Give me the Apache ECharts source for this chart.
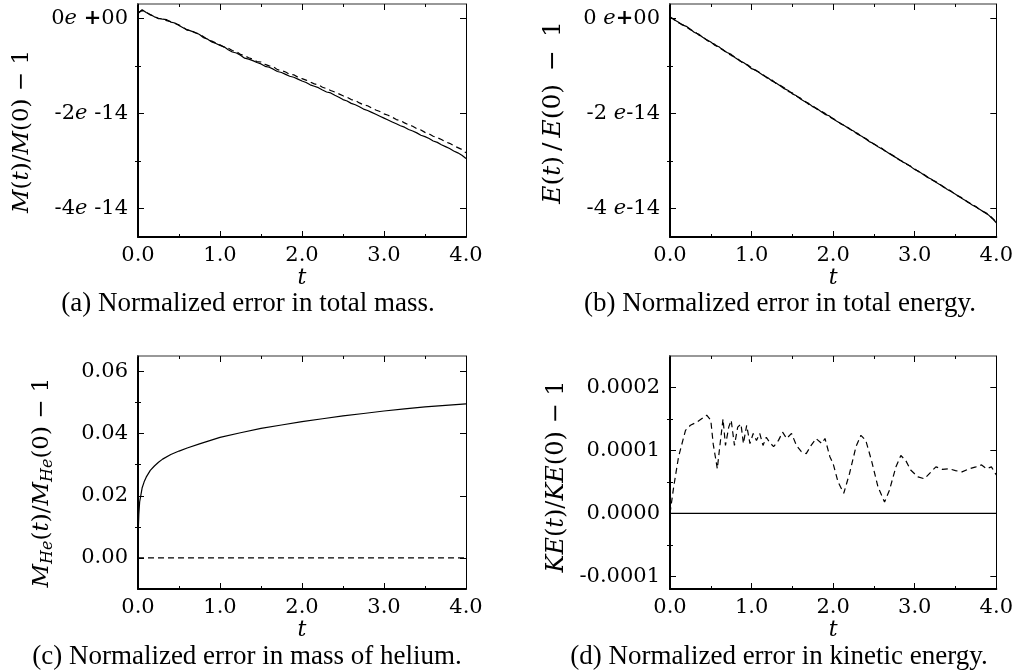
<!DOCTYPE html>
<html>
<head>
<meta charset="utf-8">
<title>Conservation errors</title>
<script src="https://cdn.jsdelivr.net/npm/echarts@6/dist/echarts.min.js"></script>
<style>
  html, body { margin: 0; padding: 0; background: #fff; }
  #chart { width: 1016px; height: 672px; }
</style>
</head>
<body>
<div id="chart"></div>
<script>
// Sample times for the total mass / total energy runs
const tSteps = [
  0.00, 0.05, 0.10, 0.15, 0.20, 0.25, 0.30, 0.35, 0.40, 0.45,
  0.50, 0.55, 0.60, 0.65, 0.70, 0.75, 0.80, 0.85, 0.90, 0.95,
  1.00, 1.05, 1.10, 1.15, 1.20, 1.25, 1.30, 1.35, 1.40, 1.45,
  1.50, 1.55, 1.60, 1.65, 1.70, 1.75, 1.80, 1.85, 1.90, 1.95,
  2.00, 2.05, 2.10, 2.15, 2.20, 2.25, 2.30, 2.35, 2.40, 2.45,
  2.50, 2.55, 2.60, 2.65, 2.70, 2.75, 2.80, 2.85, 2.90, 2.95,
  3.00, 3.05, 3.10, 3.15, 3.20, 3.25, 3.30, 3.35, 3.40, 3.45,
  3.50, 3.55, 3.60, 3.65, 3.70, 3.75, 3.80, 3.85, 3.90, 3.95,
  4.00
];

// (a) M(t)/M(0) - 1, in units of 1e-14
const massErrSolid = [
  0.10, 0.18, 0.12, 0.08, 0.03, 0.00, -0.02, -0.03, -0.08, -0.10,
  -0.15, -0.20, -0.24, -0.27, -0.30, -0.34, -0.41, -0.44, -0.50, -0.53,
  -0.57, -0.60, -0.66, -0.71, -0.73, -0.78, -0.84, -0.86, -0.89, -0.93,
  -0.96, -1.01, -1.03, -1.07, -1.12, -1.14, -1.18, -1.22, -1.24, -1.28,
  -1.32, -1.35, -1.40, -1.43, -1.46, -1.51, -1.55, -1.57, -1.62, -1.66,
  -1.71, -1.74, -1.79, -1.82, -1.86, -1.91, -1.94, -1.98, -2.02, -2.06,
  -2.10, -2.14, -2.18, -2.22, -2.26, -2.29, -2.34, -2.37, -2.41, -2.46,
  -2.49, -2.53, -2.58, -2.61, -2.66, -2.70, -2.74, -2.79, -2.83, -2.88,
  -2.95
];
const massErrDashed = [
  0.12, 0.16, 0.13, 0.07, 0.04, -0.01, -0.01, -0.05, -0.07, -0.11,
  -0.14, -0.19, -0.25, -0.26, -0.31, -0.33, -0.39, -0.45, -0.48, -0.52,
  -0.56, -0.61, -0.63, -0.68, -0.70, -0.76, -0.79, -0.83, -0.86, -0.91,
  -0.92, -0.97, -1.00, -1.02, -1.08, -1.10, -1.13, -1.18, -1.19, -1.24,
  -1.27, -1.30, -1.34, -1.38, -1.40, -1.45, -1.48, -1.52, -1.55, -1.59,
  -1.63, -1.66, -1.71, -1.73, -1.78, -1.82, -1.84, -1.89, -1.93, -1.96,
  -2.01, -2.04, -2.08, -2.13, -2.15, -2.20, -2.24, -2.27, -2.32, -2.35,
  -2.40, -2.43, -2.48, -2.51, -2.55, -2.60, -2.63, -2.68, -2.72, -2.76,
  -2.83
];

// (b) E(t)/E(0) - 1, in units of 1e-14
const energyErrSolid = [
  0.03, -0.03, -0.08, -0.14, -0.17, -0.23, -0.30, -0.33, -0.40, -0.45,
  -0.50, -0.57, -0.60, -0.67, -0.72, -0.76, -0.83, -0.89, -0.93, -0.99,
  -1.06, -1.09, -1.15, -1.21, -1.25, -1.32, -1.36, -1.42, -1.48, -1.52,
  -1.59, -1.63, -1.70, -1.75, -1.79, -1.86, -1.90, -1.96, -2.02, -2.05,
  -2.12, -2.17, -2.22, -2.27, -2.33, -2.37, -2.44, -2.48, -2.54, -2.60,
  -2.64, -2.70, -2.75, -2.80, -2.86, -2.91, -2.96, -3.02, -3.06, -3.12,
  -3.18, -3.22, -3.28, -3.34, -3.38, -3.44, -3.49, -3.54, -3.60, -3.65,
  -3.70, -3.76, -3.81, -3.86, -3.92, -3.97, -4.02, -4.08, -4.13, -4.21,
  -4.30
];
const energyErrDashed = [
  0.02, -0.02, -0.09, -0.13, -0.18, -0.24, -0.28, -0.35, -0.39, -0.46,
  -0.51, -0.55, -0.62, -0.66, -0.73, -0.78, -0.82, -0.88, -0.95, -0.98,
  -1.04, -1.10, -1.14, -1.20, -1.27, -1.30, -1.37, -1.41, -1.46, -1.54,
  -1.57, -1.64, -1.68, -1.74, -1.81, -1.84, -1.91, -1.95, -2.00, -2.07,
  -2.11, -2.16, -2.23, -2.26, -2.32, -2.39, -2.42, -2.49, -2.53, -2.59,
  -2.65, -2.69, -2.74, -2.81, -2.85, -2.90, -2.97, -3.01, -3.07, -3.11,
  -3.17, -3.23, -3.27, -3.33, -3.39, -3.43, -3.48, -3.55, -3.59, -3.64,
  -3.71, -3.75, -3.80, -3.87, -3.91, -3.96, -4.03, -4.07, -4.12, -4.20,
  -4.28
];

// (c) helium mass error
const tHelium = [
  0, 0.005, 0.01, 0.02, 0.03, 0.05, 0.075, 0.1, 0.15, 0.2,
  0.25, 0.3, 0.4, 0.5, 0.6, 0.75, 1.0, 1.25, 1.5, 1.75,
  2.0, 2.25, 2.5, 2.75, 3.0, 3.25, 3.5, 3.75, 4.0
];
const heliumErrSolid = [
  0, 0.010, 0.014, 0.018, 0.0195, 0.0225, 0.0245, 0.026, 0.0282, 0.0296,
  0.0308, 0.0318, 0.0333, 0.0344, 0.0354, 0.0367, 0.0388, 0.0403, 0.0417, 0.0428,
  0.0439, 0.0448, 0.0457, 0.0465, 0.0473, 0.0480, 0.0486, 0.0491, 0.0496
];
const tHeliumFlat = [0, 4];
const heliumErrDashed = [0, 0];

// (d) kinetic energy error, in units of 1e-4
const tKinetic = [
  0, 0.045, 0.105, 0.19, 0.25, 0.33, 0.45, 0.5, 0.53, 0.58,
  0.61, 0.65, 0.68, 0.72, 0.75, 0.79, 0.83, 0.87, 0.9, 0.94,
  0.98, 1.02, 1.06, 1.1, 1.14, 1.18, 1.22, 1.27, 1.33, 1.38,
  1.43, 1.49, 1.55, 1.61, 1.67, 1.73, 1.79, 1.86, 1.9, 1.96,
  2.0, 2.06, 2.13, 2.2, 2.28, 2.34, 2.4, 2.47, 2.55, 2.63,
  2.69, 2.77, 2.83, 2.89, 2.95, 3.04, 3.12, 3.2, 3.26, 3.34,
  3.42, 3.5, 3.58, 3.67, 3.75, 3.82, 3.88, 3.94, 4.0
];
const kineticErrDashed = [
  0, 0.42, 0.9, 1.32, 1.4, 1.45, 1.56, 1.48, 1.1, 0.71,
  1.06, 1.5, 1.08, 1.37, 1.48, 1.08, 1.37, 1.42, 1.11, 1.4,
  1.11, 1.27, 1.16, 1.27, 1.08, 1.21, 1.13, 1.06, 1.16, 1.29,
  1.19, 1.27, 1.08, 0.98, 0.95, 1.08, 1.19, 1.11, 1.19, 0.9,
  0.79, 0.5, 0.32, 0.63, 1.06, 1.24, 1.16, 0.84, 0.42, 0.18,
  0.37, 0.74, 0.92, 0.84, 0.69, 0.58, 0.55, 0.66, 0.74, 0.7,
  0.71, 0.68, 0.66, 0.71, 0.74, 0.77, 0.71, 0.74, 0.61
];
const tKineticFlat = [0, 4];
const kineticErrSolid = [0, 0];

// Axis tick positions
const expMajor = [-4, -2, 0];
const expMinor = [-3, -1];
const heMajor = [0, 0.02, 0.04, 0.06];
const heMinor = [0.01, 0.03, 0.05];
const keMajor = [-1, 0, 1, 2];
const keMinor = [-0.5, 0.5, 1.5];

const captions = [
  '(a) Normalized error in total mass.',
  '(b) Normalized error in total energy.',
  '(c) Normalized error in mass of helium.',
  '(d) Normalized error in kinetic energy.'
];

const TICK_FONT = 'DejaVu Serif';
const NAME_FONT = 'DejaVu Serif';
const CAP_FONT = 'Liberation Serif';
const TICK_SIZE = 21;

const pair = (xs, ys) => xs.map((x, i) => [x, ys[i]]);

const option = {
  backgroundColor: '#fff',
  animation: false,
  grid: [], xAxis: [], yAxis: [], series: [], graphic: []
};

function nameRich(size) {
  return {
    r: { fontFamily: NAME_FONT, fontSize: size, color: '#000' },
    i: { fontFamily: NAME_FONT, fontSize: size, fontStyle: 'italic', color: '#000' },
    s: { fontFamily: NAME_FONT, fontSize: Math.round(size * 0.68), fontStyle: 'italic', color: '#000',
         verticalAlign: 'bottom', padding: [12, 0, 0, 0] }
  };
}
const labelRich = {
  e: { fontFamily: TICK_FONT, fontSize: TICK_SIZE, fontStyle: 'italic', color: '#000' },
  b: { fontFamily: TICK_FONT, fontSize: TICK_SIZE, fontWeight: 'bold', color: '#000' }
};

function addPanel(p) {
  const gi = option.grid.length;
  option.grid.push({ left: p.left, top: p.top, width: p.width, height: p.height, containLabel: false });
  const tickStyle = { color: '#000', width: 1 };
  const xBase = {
    gridIndex: gi, type: 'value', min: 0, max: 4, interval: 1,
    splitLine: { show: false }, minorSplitLine: { show: false },
    axisTick: { show: true, inside: true, length: 6, lineStyle: tickStyle },
    minorTick: { show: true, splitNumber: 2, length: 3, lineStyle: tickStyle }
  };
  option.xAxis.push(Object.assign({}, xBase, {
    position: 'bottom',
    axisLine: { show: true, onZero: false, lineStyle: { color: '#000', width: 2 } },
    axisLabel: { show: true, margin: 8, color: '#000', fontFamily: TICK_FONT, fontSize: TICK_SIZE,
                 formatter: v => v.toFixed(1) },
    name: 't', nameLocation: 'middle', nameGap: 28,
    nameTextStyle: { fontFamily: NAME_FONT, fontSize: 22, fontStyle: 'italic', color: '#000' }
  }));
  option.xAxis.push(Object.assign({}, xBase, {
    position: 'top',
    axisLine: { show: true, onZero: false, lineStyle: { color: '#777', width: 1.5 } },
    axisLabel: { show: false }
  }));

  const yBase = {
    gridIndex: gi, type: 'value', min: p.ymin, max: p.ymax, scale: true,
    splitLine: { show: false }
  };
  // left: major ticks with labels, then minor ticks
  option.yAxis.push(Object.assign({}, yBase, {
    position: 'left',
    axisLine: { show: true, onZero: false, lineStyle: { color: '#000', width: 2 } },
    axisTick: { show: true, inside: true, length: 6, lineStyle: tickStyle, customValues: p.major },
    axisLabel: { show: true, margin: 10, color: '#000', fontFamily: TICK_FONT, fontSize: TICK_SIZE,
                 customValues: p.major, formatter: p.fmt, rich: labelRich },
    name: p.name, nameLocation: 'middle', nameRotate: 90, nameGap: p.nameGap,
    nameTextStyle: { rich: nameRich(p.nameSize), fontFamily: NAME_FONT, fontSize: p.nameSize,
                     color: '#000', padding: p.namePad }
  }));
  option.yAxis.push(Object.assign({}, yBase, {
    position: 'left',
    axisLine: { show: false },
    axisTick: { show: true, inside: true, length: 3, lineStyle: tickStyle, customValues: p.minor },
    axisLabel: { show: false }
  }));
  option.yAxis.push(Object.assign({}, yBase, {
    position: 'right',
    axisLine: { show: true, onZero: false, lineStyle: { color: '#000', width: 1 } },
    axisTick: { show: true, inside: true, length: 6, lineStyle: tickStyle, customValues: p.major },
    axisLabel: { show: false }
  }));
  option.yAxis.push(Object.assign({}, yBase, {
    position: 'right',
    axisLine: { show: false },
    axisTick: { show: true, inside: true, length: 3, lineStyle: tickStyle, customValues: p.minor },
    axisLabel: { show: false }
  }));

  const xi = gi * 2, yi = gi * 4;
  p.lines.forEach(l => {
    option.series.push({
      type: 'line', xAxisIndex: xi, yAxisIndex: yi, data: l.data,
      showSymbol: false, symbol: 'none', clip: true, silent: true,
      lineStyle: { color: '#000', width: 1.2, type: l.dashed ? [6, 4] : 'solid' }
    });
  });

  option.graphic.push({
    type: 'text', x: p.capX, y: p.capY,
    style: { text: p.caption, fill: '#000', font: '27px "' + CAP_FONT + '"',
             textAlign: 'center', textVerticalAlign: 'middle' }
  });
}

addPanel({
  left: 138, top: 4, width: 328, height: 233, ymin: -4.6, ymax: 0.3,
  major: expMajor, minor: expMinor,
  fmt: v => (v === 0 ? '0{e|e} {b|+}00' : v + '{e|e} -14'),
  name: '{i|M}{r|(}{i|t}{r|)/}{i|M}{r|(0) − 1}', nameGap: 104, nameSize: 23, namePad: [0, 22, 0, 0],
  lines: [{ data: pair(tSteps, massErrSolid) }, { data: pair(tSteps, massErrDashed), dashed: true }],
  caption: captions[0], capX: 248, capY: 304
});
addPanel({
  left: 670, top: 4, width: 327, height: 233, ymin: -4.6, ymax: 0.3,
  major: expMajor, minor: expMinor,
  fmt: v => (v === 0 ? '0 {e|e}{b|+}00' : v + ' {e|e}-14'),
  name: '{i|E}{r|(}{i|t}{r|)\u2009/\u2009}{i|E}{r|(0)\u2009 − \u20091}', nameGap: 104, nameSize: 25, namePad: [0, 0, 0, 16],
  lines: [{ data: pair(tSteps, energyErrSolid) }, { data: pair(tSteps, energyErrDashed), dashed: true }],
  caption: captions[1], capX: 780, capY: 304
});
addPanel({
  left: 138, top: 356, width: 328, height: 233, ymin: -0.01, ymax: 0.065,
  major: heMajor, minor: heMinor,
  fmt: v => v.toFixed(2),
  name: '{i|M}{s|He}{r|(}{i|t}{r|)/}{i|M}{s|He}{r|(0) − 1}', nameGap: 82, nameSize: 23, namePad: [0, 20, 0, 0],
  lines: [{ data: pair(tHelium, heliumErrSolid) }, { data: pair(tHeliumFlat, heliumErrDashed), dashed: true }],
  caption: captions[2], capX: 247, capY: 657
});
addPanel({
  left: 670, top: 356, width: 327, height: 233, ymin: -1.2, ymax: 2.5,
  major: keMajor, minor: keMinor,
  fmt: v => (v / 10000).toFixed(4),
  name: '{i|KE}{r|(}{i|t}{r|)/}{i|KE}{r|(0) − 1}', nameGap: 101, nameSize: 24, namePad: [0, 8, 0, 0],
  lines: [{ data: pair(tKinetic, kineticErrDashed), dashed: true }, { data: pair(tKineticFlat, kineticErrSolid) }],
  caption: captions[3], capX: 779, capY: 657
});

const chart = echarts.init(document.getElementById('chart'), null, { renderer: 'canvas' });
chart.setOption(option);
</script>
</body>
</html>
